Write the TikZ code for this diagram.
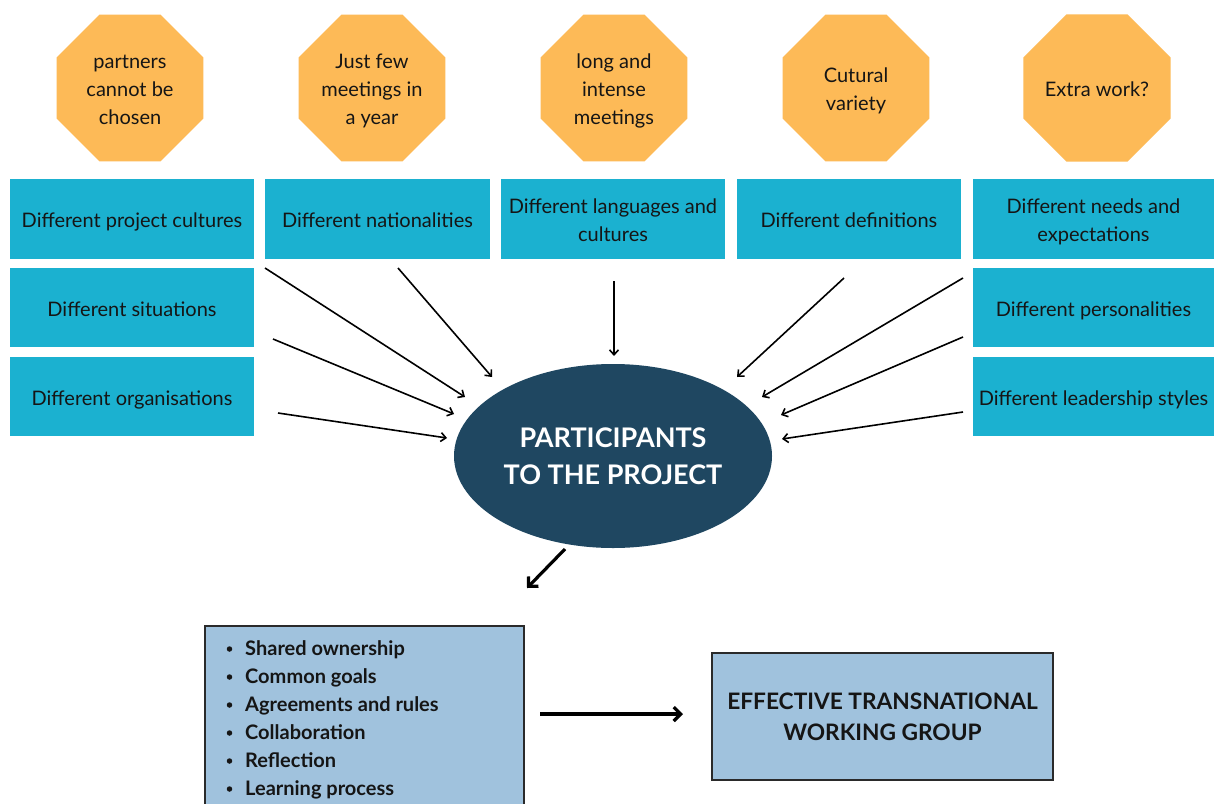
\documentclass[tikz,border=0pt]{standalone}
\usepackage{fontspec}
\setmainfont{Lato}
\usetikzlibrary{shapes.geometric,arrows.meta}
\definecolor{octc}{HTML}{FDBA57}
\definecolor{cyanc}{HTML}{1BB1D0}
\definecolor{navyc}{HTML}{1F4761}
\definecolor{lblue}{HTML}{A0C2DD}
\definecolor{txt}{HTML}{151515}
\definecolor{bord}{HTML}{2A2A2A}
\newcommand{\topstrutx}{\rule{0pt}{22pt}}
\newcommand{\botstrutx}{\rule[-5pt]{0pt}{5pt}}
\newcommand{\mtext}[1]{\begin{tabular}{@{}c@{}}\rule{0pt}{25.6pt}#1\end{tabular}}
\begin{document}
\begin{tikzpicture}[x=1pt,y=-1pt,
  oct/.style={regular polygon, regular polygon sides=8, minimum size=159pt, fill=octc, inner sep=0pt, align=center, text=txt, font=\fontsize{20}{28}\selectfont, execute at begin node=\topstrutx, execute at end node=\botstrutx},
  cbox/.style={rectangle, fill=cyanc, minimum height=80pt, inner sep=0pt, align=center, text=txt, font=\fontsize{20}{28}\selectfont, execute at begin node=\topstrutx, execute at end node=\botstrutx},
  thinarr/.style={-{Straight Barb[length=5pt,width=9pt]}, line width=1.6pt, draw=black},
  thickarr/.style={-{Straight Barb[length=7pt,width=14pt]}, line width=3.2pt, draw=black},
  lbox/.style={rectangle, fill=lblue, draw=bord, line width=1.5pt, inner sep=0pt},
  litem/.style={anchor=base west, inner sep=0pt, text=txt, font=\fontsize{20}{28}\selectfont\bfseries},
  bul/.style={circle, fill=txt, inner sep=0pt, minimum size=5.5pt}
]
\clip (0,0) rectangle (1214,803);
\fill[white] (0,0) rectangle (1214,803);

% octagons
\node[oct] (o1) at (130,88) {\mtext{partners\\cannot be\\chosen}};
\node[oct] (o2) at (372,88) {\mtext{Just few\\meetings in\\a year}};
\node[oct] (o3) at (614,88) {\mtext{long and\\intense\\meetings}};
\node[oct] (o4) at (856,88) {\mtext{Cutural\\variety}};
\node[oct] (o5) at (1097,88) {Extra work?};

% top row boxes
\node[cbox, minimum width=244pt] (b1) at (132,219) {Different project cultures};
\node[cbox, minimum width=225pt] (b2) at (377.5,219) {Different nationalities};
\node[cbox, minimum width=224pt] (b3) at (613,219) {\mtext{Different languages and\\cultures}};
\node[cbox, minimum width=224pt] (b4) at (849,219) {Different definitions};
\node[cbox, minimum width=241pt] (b5) at (1093.5,219) {\mtext{Different needs and\\expectations}};
% left column
\node[cbox, minimum width=244pt, minimum height=79pt] (l2) at (132,307.5) {Different situations};
\node[cbox, minimum width=244pt, minimum height=79pt] (l3) at (132,396.5) {Different organisations};
% right column
\node[cbox, minimum width=241pt, minimum height=79pt] (r2) at (1093.5,307.5) {Different personalities};
\node[cbox, minimum width=241pt, minimum height=79pt] (r3) at (1093.5,396.5) {Different leadership styles};

% central ellipse
\node[ellipse, fill=navyc, minimum width=318pt, minimum height=184pt, inner sep=0pt, align=center, text=white, font=\fontsize{27}{37}\selectfont\bfseries] (ell) at (613,456) {PARTICIPANTS\\TO THE PROJECT};

% arrow coordinates
\coordinate (s1) at (265,268); \coordinate (e1) at (465,397);
\coordinate (s2) at (398,268); \coordinate (e2) at (492,377);
\coordinate (s3) at (614,281); \coordinate (e3) at (614,356);
\coordinate (s4) at (844,278); \coordinate (e4) at (737,377);
\coordinate (s5) at (963,278); \coordinate (e5) at (762,397);
\coordinate (s6) at (273,339); \coordinate (e6) at (454,414);
\coordinate (s7) at (278,413); \coordinate (e7) at (447,438);
\coordinate (s8) at (963,337); \coordinate (e8) at (781,415);
\coordinate (s9) at (963,412); \coordinate (e9) at (782,439);
\foreach \i in {1,...,9} {\draw[thinarr] (s\i) -- (e\i);}

% bottom boxes
\node[lbox, minimum width=319pt, minimum height=200pt] (lst) at (364.5,726) {};
\node[litem] (i1) at (245,655) {Shared ownership};
\node[litem] (i2) at (245,683) {Common goals};
\node[litem] (i3) at (245,711) {Agreements and rules};
\node[litem] (i4) at (245,739) {Collaboration};
\node[litem] (i5) at (245,767) {Reflection};
\node[litem] (i6) at (245,795) {Learning process};
\node[bul] (u1) at (229.5,649) {};
\node[bul] (u2) at (229.5,677) {};
\node[bul] (u3) at (229.5,705) {};
\node[bul] (u4) at (229.5,733) {};
\node[bul] (u5) at (229.5,761) {};
\node[bul] (u6) at (229.5,789) {};

\node[lbox, minimum width=341pt, minimum height=127pt, align=center, text=txt, font=\fontsize{22.7}{31}\selectfont\bfseries] (eff) at (882.5,716.5) {EFFECTIVE TRANSNATIONAL\\WORKING GROUP};

\coordinate (t1) at (565,549); \coordinate (t2) at (527,588);
\draw[thickarr] (t1) -- (t2);
\coordinate (h1) at (540,714); \coordinate (h2) at (683,714);
\draw[thickarr] (h1) -- (h2);
\end{tikzpicture}
\end{document}
